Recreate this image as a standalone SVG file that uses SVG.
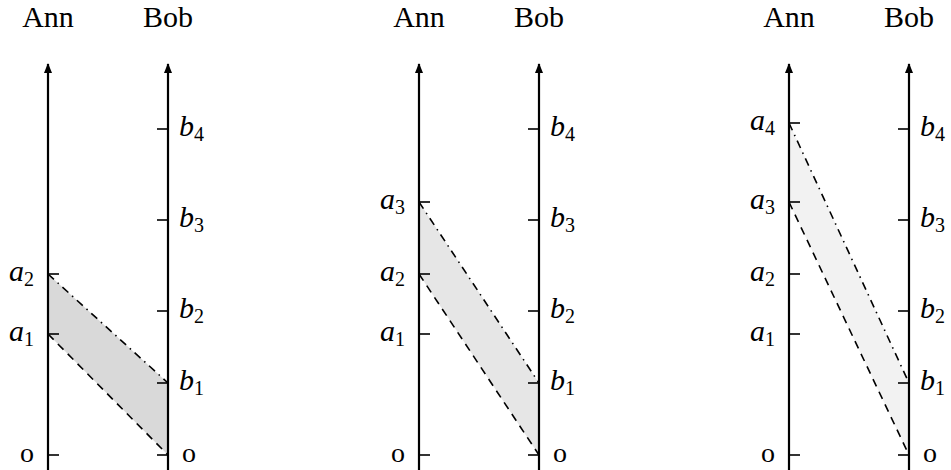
<svg xmlns="http://www.w3.org/2000/svg" width="951" height="470" viewBox="0 0 951 470">
<style>
text{font-family:"Liberation Serif","Times New Roman",serif;fill:#000}
.title{font-size:30px;text-anchor:middle}
.lab{font-size:30px;font-style:italic}
.sub{font-size:20px;font-style:normal}
.zero{font-size:28px}
.l{text-anchor:end}
.axis{stroke:#000;stroke-width:2.2;fill:none}
.tick{stroke:#000;stroke-width:1.6}
.dash{stroke:#000;stroke-width:1.6;stroke-dasharray:8 6;fill:none}
.dashdot{stroke:#000;stroke-width:1.6;stroke-dasharray:8 5 1.5 5;fill:none}
</style>
<defs>
<marker id="ah" viewBox="0 0 10 10" refX="9" refY="5" markerWidth="10" markerHeight="10" markerUnits="userSpaceOnUse" orient="auto">
<path d="M0,1 L10,5 L0,9 z" fill="#000"/>
</marker>
</defs>

<g id="panel1" font-family="Liberation Serif, Times New Roman, serif">
<polygon points="48,334 48,274 168,383 168,455" fill="#d9d9d9"/>
<line class="axis" x1="48" y1="470" x2="48" y2="64" marker-end="url(#ah)"/>
<line class="axis" x1="168" y1="470" x2="168" y2="64" marker-end="url(#ah)"/>
<text class="title" x="48" y="27">Ann</text>
<text class="title" x="168" y="27">Bob</text>
<line class="tick" x1="48" y1="455" x2="59" y2="455"/>
<line class="tick" x1="48" y1="334" x2="59" y2="334"/>
<line class="tick" x1="48" y1="274" x2="59" y2="274"/>
<line class="tick" x1="157" y1="455" x2="168" y2="455"/>
<line class="tick" x1="157" y1="383" x2="168" y2="383"/>
<line class="tick" x1="157" y1="311" x2="168" y2="311"/>
<line class="tick" x1="157" y1="220" x2="168" y2="220"/>
<line class="tick" x1="157" y1="129" x2="168" y2="129"/>
<text class="zero l" x="34" y="462">o</text>
<text class="lab l" x="34" y="341">a<tspan class="sub" dy="5">1</tspan></text>
<text class="lab l" x="34" y="281">a<tspan class="sub" dy="5">2</tspan></text>
<text class="zero" x="182" y="462">o</text>
<text class="lab" x="179" y="390">b<tspan class="sub" dy="5">1</tspan></text>
<text class="lab" x="179" y="318">b<tspan class="sub" dy="5">2</tspan></text>
<text class="lab" x="179" y="227">b<tspan class="sub" dy="5">3</tspan></text>
<text class="lab" x="179" y="136">b<tspan class="sub" dy="5">4</tspan></text>
</g>

<g id="panel2" font-family="Liberation Serif, Times New Roman, serif">
<polygon points="419,274 419,202 539,383 539,455" fill="#e6e6e6"/>
<line class="axis" x1="419" y1="470" x2="419" y2="64" marker-end="url(#ah)"/>
<line class="axis" x1="539" y1="470" x2="539" y2="64" marker-end="url(#ah)"/>
<text class="title" x="419" y="27">Ann</text>
<text class="title" x="539" y="27">Bob</text>
<line class="tick" x1="419" y1="455" x2="430" y2="455"/>
<line class="tick" x1="419" y1="334" x2="430" y2="334"/>
<line class="tick" x1="419" y1="274" x2="430" y2="274"/>
<line class="tick" x1="419" y1="202" x2="430" y2="202"/>
<line class="tick" x1="528" y1="455" x2="539" y2="455"/>
<line class="tick" x1="528" y1="383" x2="539" y2="383"/>
<line class="tick" x1="528" y1="311" x2="539" y2="311"/>
<line class="tick" x1="528" y1="220" x2="539" y2="220"/>
<line class="tick" x1="528" y1="129" x2="539" y2="129"/>
<text class="zero l" x="405" y="462">o</text>
<text class="lab l" x="405" y="341">a<tspan class="sub" dy="5">1</tspan></text>
<text class="lab l" x="405" y="281">a<tspan class="sub" dy="5">2</tspan></text>
<text class="lab l" x="405" y="209">a<tspan class="sub" dy="5">3</tspan></text>
<text class="zero" x="553" y="462">o</text>
<text class="lab" x="550" y="390">b<tspan class="sub" dy="5">1</tspan></text>
<text class="lab" x="550" y="318">b<tspan class="sub" dy="5">2</tspan></text>
<text class="lab" x="550" y="227">b<tspan class="sub" dy="5">3</tspan></text>
<text class="lab" x="550" y="136">b<tspan class="sub" dy="5">4</tspan></text>
</g>

<g id="panel3" font-family="Liberation Serif, Times New Roman, serif">
<polygon points="789,202 789,123 909,383 909,455" fill="#f2f2f2"/>
<line class="axis" x1="789" y1="470" x2="789" y2="64" marker-end="url(#ah)"/>
<line class="axis" x1="909" y1="470" x2="909" y2="64" marker-end="url(#ah)"/>
<text class="title" x="789" y="27">Ann</text>
<text class="title" x="909" y="27">Bob</text>
<line class="tick" x1="789" y1="455" x2="800" y2="455"/>
<line class="tick" x1="789" y1="334" x2="800" y2="334"/>
<line class="tick" x1="789" y1="274" x2="800" y2="274"/>
<line class="tick" x1="789" y1="202" x2="800" y2="202"/>
<line class="tick" x1="789" y1="123" x2="800" y2="123"/>
<line class="tick" x1="898" y1="455" x2="909" y2="455"/>
<line class="tick" x1="898" y1="383" x2="909" y2="383"/>
<line class="tick" x1="898" y1="311" x2="909" y2="311"/>
<line class="tick" x1="898" y1="220" x2="909" y2="220"/>
<line class="tick" x1="898" y1="129" x2="909" y2="129"/>
<text class="zero l" x="775" y="462">o</text>
<text class="lab l" x="775" y="341">a<tspan class="sub" dy="5">1</tspan></text>
<text class="lab l" x="775" y="281">a<tspan class="sub" dy="5">2</tspan></text>
<text class="lab l" x="775" y="209">a<tspan class="sub" dy="5">3</tspan></text>
<text class="lab l" x="775" y="130">a<tspan class="sub" dy="5">4</tspan></text>
<text class="zero" x="923" y="462">o</text>
<text class="lab" x="920" y="390">b<tspan class="sub" dy="5">1</tspan></text>
<text class="lab" x="920" y="318">b<tspan class="sub" dy="5">2</tspan></text>
<text class="lab" x="920" y="227">b<tspan class="sub" dy="5">3</tspan></text>
<text class="lab" x="920" y="136">b<tspan class="sub" dy="5">4</tspan></text>
</g>

<g id="connectors">
<line class="dash" x1="48" y1="334" x2="168" y2="455"/>
<line class="dashdot" x1="48" y1="274" x2="168" y2="383"/>
<line class="dash" x1="419" y1="274" x2="539" y2="455"/>
<line class="dashdot" x1="419" y1="202" x2="539" y2="383"/>
<line class="dash" x1="789" y1="202" x2="909" y2="455"/>
<line class="dashdot" x1="789" y1="123" x2="909" y2="383"/>
</g>
</svg>
